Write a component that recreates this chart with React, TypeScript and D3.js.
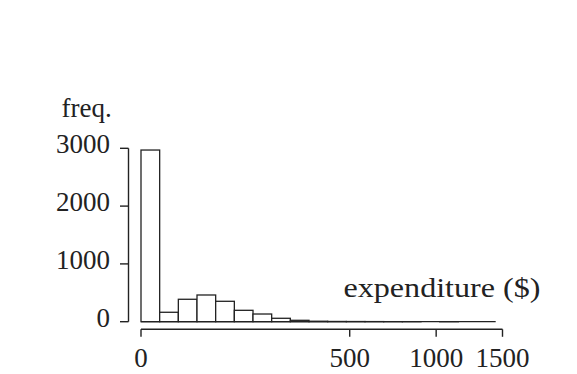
import React, { useRef, useEffect } from 'react';
import * as d3 from 'd3';

// histogram bins are equal width on the square-root scale: upper edge of each bin in dollars
const binUpper = [4, 16, 36, 64, 100, 144, 196, 256, 324, 400, 484, 576, 676, 784, 900, 1024, 1156, 1296, 1444];
const counts = [2970, 163, 388, 462, 353, 197, 133, 59, 24, 8, 4, 3, 2, 1, 1, 0, 1, 0, 0];
const xTicks = [0, 500, 1000, 1500];
const yTicks = [0, 1000, 2000, 3000];

const FONT = '"Liberation Serif", "DejaVu Serif", serif';
const INK = '#222';

const App = () => {
    const ref = useRef<SVGSVGElement>(null);

    useEffect(() => {
        const svg = d3.select(ref.current)
            .attr('width', 577)
            .attr('height', 374);

        svg.selectAll('*').remove();

        const x = d3.scaleSqrt().domain([0, 1500]).range([141, 502.5]);
        const y = d3.scaleLinear().domain([0, 3000]).range([321.7, 148.3]);

        const bins = counts.map((c, i) => ({ x0: i === 0 ? 0 : binUpper[i - 1], x1: binUpper[i], c }));

        // bars
        svg.append('g')
            .selectAll('rect')
            .data(bins)
            .enter().append('rect')
            .attr('x', d => x(d.x0))
            .attr('y', d => y(d.c))
            .attr('width', d => x(d.x1) - x(d.x0))
            .attr('height', d => y(0) - y(d.c))
            .attr('fill', 'white')
            .attr('stroke', INK)
            .attr('stroke-width', 1.3);

        // empty bins still show as a line along the bottom
        svg.append('line')
            .attr('x1', x(0)).attr('x2', x(binUpper[binUpper.length - 1]))
            .attr('y1', y(0)).attr('y2', y(0))
            .attr('stroke', INK).attr('stroke-width', 1.3);

        // y axis, offset to the left of the bars
        const yAxis = svg.append('g').attr('transform', 'translate(128.5,0)');
        yAxis.append('line')
            .attr('x1', 0).attr('x2', 0)
            .attr('y1', y(0)).attr('y2', y(3000))
            .attr('stroke', INK).attr('stroke-width', 1.4);
        yAxis.selectAll('.tick')
            .data(yTicks)
            .enter().append('line')
            .attr('x1', -8.5).attr('x2', 0)
            .attr('y1', d => y(d)).attr('y2', d => y(d))
            .attr('stroke', INK).attr('stroke-width', 1.4);
        yAxis.selectAll('.lbl')
            .data(yTicks)
            .enter().append('text')
            .attr('x', -18.5)
            .attr('y', d => y(d) + 5)
            .attr('text-anchor', 'end')
            .attr('font-family', FONT)
            .attr('font-size', 27)
            .attr('fill', INK)
            .text(d => d);

        // x axis, offset below the bars
        const xAxis = svg.append('g').attr('transform', 'translate(0,329.3)');
        xAxis.append('line')
            .attr('x1', x(0)).attr('x2', x(1500))
            .attr('y1', 0).attr('y2', 0)
            .attr('stroke', INK).attr('stroke-width', 1.4);
        xAxis.selectAll('.tick')
            .data(xTicks)
            .enter().append('line')
            .attr('x1', d => x(d)).attr('x2', d => x(d))
            .attr('y1', 0).attr('y2', 7.5)
            .attr('stroke', INK).attr('stroke-width', 1.4);
        xAxis.selectAll('.lbl')
            .data(xTicks)
            .enter().append('text')
            .attr('x', d => x(d))
            .attr('y', 37.4)
            .attr('text-anchor', 'middle')
            .attr('font-family', FONT)
            .attr('font-size', 27)
            .attr('fill', INK)
            .text(d => d);

        // axis titles
        svg.append('text')
            .attr('x', 61.5).attr('y', 117)
            .attr('font-family', FONT).attr('font-size', 27).attr('fill', INK)
            .text('freq.');
        svg.append('text')
            .attr('x', 343.5).attr('y', 296.5)
            .attr('textLength', 197)
            .attr('lengthAdjust', 'spacingAndGlyphs')
            .attr('font-family', FONT).attr('font-size', 27).attr('fill', INK)
            .text('expenditure ($)');
    }, []);

    return (
        <svg ref={ref} style={{ position: 'absolute', left: 0, top: 0, background: 'white' }}></svg>
    );
};

export default App;
